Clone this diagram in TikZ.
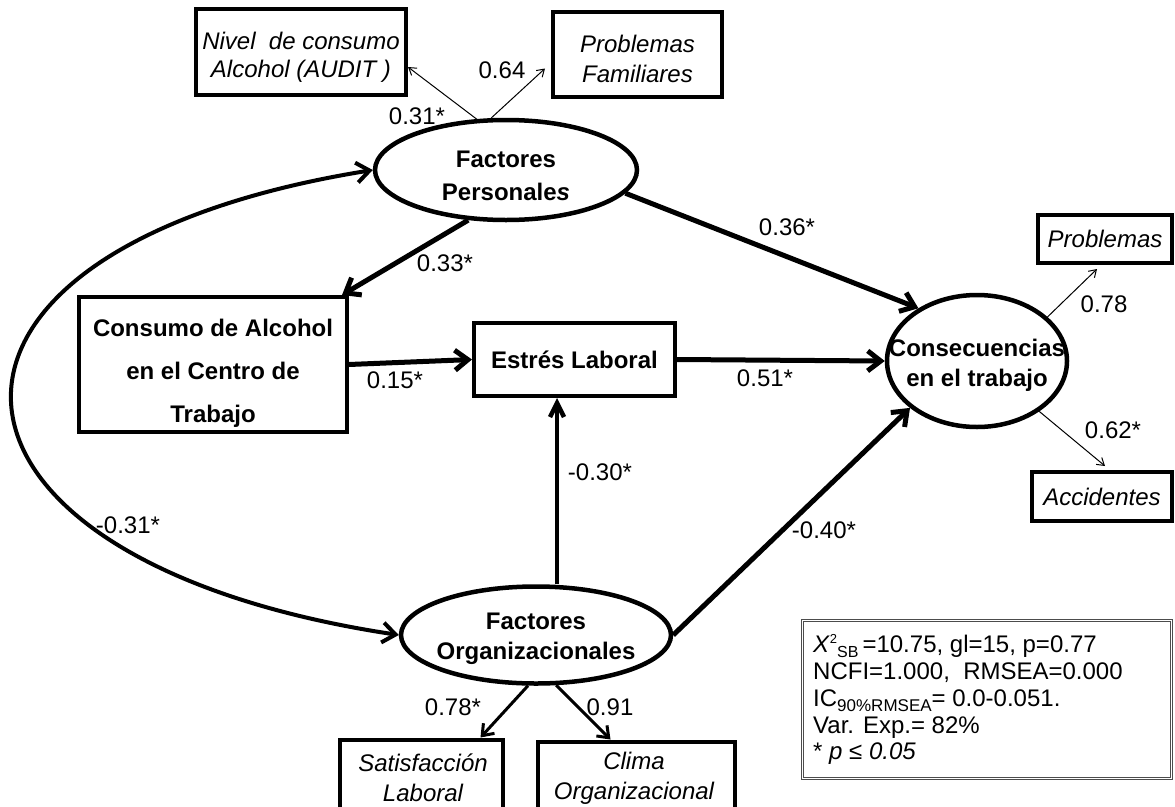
\documentclass[tikz,border=0pt]{standalone}
\usepackage{fontspec}
\setmainfont{Liberation Sans}
\usetikzlibrary{shapes.geometric,arrows.meta}
\newcommand\sz{\fontsize{24}{30}\selectfont}
\begin{document}
\begin{tikzpicture}[x=1pt,y=-1pt,
  box/.style={draw, line width=4pt, rectangle, inner sep=0pt},
  lat/.style={draw, line width=4.5pt, ellipse, inner sep=0pt},
  txt/.style={inner sep=0pt, align=center},
  lbl/.style={inner sep=0pt, font=\sz},
  bigarr/.style={line width=5pt, -{Straight Barb[length=13pt,width=20pt]}},
  vertarr/.style={line width=4.5pt, -{Straight Barb[length=14pt,width=14pt]}},
  medarr/.style={line width=3pt, -{Straight Barb[length=10pt,width=15pt]}},
  thinarr/.style={line width=1pt, -{Straight Barb[length=7pt,width=9pt]}},
  corr/.style={line width=4pt, {Straight Barb[length=13pt,width=20pt]}-{Straight Barb[length=13pt,width=20pt]}},
  stat/.style={inner sep=0pt, anchor=base west, font=\fontsize{24}{27}\selectfont}
]
\path[fill=white] (0,0) rectangle (1175,806);
\begin{scope}
\clip (0,0) rectangle (1175,806);

% ---------- nodes ----------
\node[box, minimum width=210pt, minimum height=86pt] (nivel) at (301,52) {};
\node[txt, font=\fontsize{24}{28}\selectfont\itshape] (nivel-t) at (301,57) {Nivel\ \ de consumo\\Alcohol (AUDIT )};

\node[box, minimum width=169pt, minimum height=85pt] (probfam) at (637.5,54.5) {};
\node[txt, font=\sz\itshape] (probfam-t) at (637.5,59) {Problemas\\Familiares};

\node[lat, minimum width=262pt, minimum height=100pt] (fp) at (506,170) {};
\node[txt, font=\fontsize{24}{33}\selectfont\bfseries] (fp-t) at (506,176) {Factores\\Personale\textit{s}};

\node[box, minimum width=268pt, minimum height=135pt] (consumo) at (213,364.5) {};
\node[txt, font=\fontsize{24}{43}\selectfont\bfseries] (consumo-t) at (213,373) {Consumo de Alcohol\\en el Centro de\\Trabajo};

\node[box, minimum width=201pt, minimum height=73pt, font=\sz\bfseries] (estres) at (574.5,359.5) {Estrés Laboral};

\node[lat, minimum width=180pt, minimum height=132pt] (conse) at (977,361) {};
\node[txt, font=\sz\bfseries] (conse-t) at (977,365) {Consecuencias\\en el trabajo};

\node[box, minimum width=134pt, minimum height=48pt, font=\sz\itshape] (probR) at (1105,239) {Problemas};
\node[box, minimum width=140pt, minimum height=49pt, font=\sz\itshape] (accid) at (1102,496.5) {Accidentes};

\node[lat, minimum width=270pt, minimum height=97pt] (fo) at (536,635) {};
\node[txt, font=\sz\bfseries] (fo-t) at (536,639) {Factores\\Organizacionales};

\node[box, minimum width=163pt, minimum height=75pt] (satis) at (421.5,777) {};
\node[txt, font=\sz\itshape] (satis-t) at (423,778) {Satisfacción\\Laboral};

\node[box, minimum width=197pt, minimum height=73pt] (clima) at (636.5,778) {};
\node[txt, font=\sz\itshape] (clima-t) at (634,778) {Clima\\Organizacional};

% ---------- connectors ----------
\draw[thinarr] (fp.120) -- ([yshift=-15pt]nivel.east);
\draw[thinarr] (fp.106) -- ([shift={(-6pt,-14pt)}]probfam.west);
\draw[bigarr] (fp.-127) -- ([xshift=-7pt]consumo.north east);
\draw[bigarr] (fp.-11) -- (conse.138);
\draw[bigarr] (consumo.east) -- (estres.west);
\draw[bigarr] (estres.east) -- (conse.west);
\draw[vertarr] ([xshift=21pt]fo.north) -- ([xshift=21pt]fo.north |- estres.south);
\draw[bigarr] (fo.east) -- (conse.-145);
\draw[medarr] (fo.-99) -- ([xshift=59pt]satis.north);
\draw[medarr] (fo.-68) -- ([xshift=-26pt]clima.north);
\draw[thinarr] (conse.32) -- ([shift={(-8pt,-4pt)}]probR.south);
\draw[thinarr] (conse.-39) -- ([shift={(3pt,4pt)}]accid.north);
\draw[corr] (fp.west) .. controls (-125,250) and (-99,560) .. (fo.west);

% ---------- coefficients ----------
\node[lbl] (l031) at (417,116) {0.31*};
\node[lbl] (l064) at (502,70) {0.64};
\node[lbl] (l033) at (445,263) {0.33*};
\node[lbl] (l036) at (787,227) {0.36*};
\node[lbl] (l015) at (395,380) {0.15*};
\node[lbl] (l051) at (765,378) {0.51*};
\node[lbl] (l030) at (600,472) {-0.30*};
\node[lbl] (l040) at (824,530) {-0.40*};
\node[lbl] (l031n) at (128,525) {-0.31*};
\node[lbl] (l078r) at (1104,304) {0.78};
\node[lbl] (l062) at (1113,430) {0.62*};
\node[lbl] (l078) at (453,707) {0.78*};
\node[lbl] (l091) at (610,707) {0.91};

% ---------- fit statistics ----------
\node[draw=black!70, line width=1pt, minimum width=371pt, minimum height=160pt, inner sep=0pt] (stats) at (986.5,699) {};
\draw[black!70, line width=1pt] ([shift={(2.5pt,-2.5pt)}]stats.north west) rectangle ([shift={(-2.5pt,2.5pt)}]stats.south east);
\node[stat] (s1) at (813,652) {\textit{X}\raisebox{9pt}{\fontsize{13}{13}\selectfont 2}\raisebox{-5pt}{\fontsize{16}{16}\selectfont SB}\,=10.75, gl=15, p=0.77};
\node[stat] (s2) at (813,679) {NCFI=1.000,\ \ RMSEA=0.000};
\node[stat] (s3) at (813,706) {IC\raisebox{-5pt}{\fontsize{17}{17}\selectfont 90\%RMSEA}= 0.0-0.051.};
\node[stat] (s4) at (813,733) {Var. Exp.= 82\%};
\node[stat] (s5) at (813,759) {* \textit{p ≤ 0.05}};
\end{scope}
\useasboundingbox (0,0) rectangle (1175,806);
\end{tikzpicture}
\end{document}
